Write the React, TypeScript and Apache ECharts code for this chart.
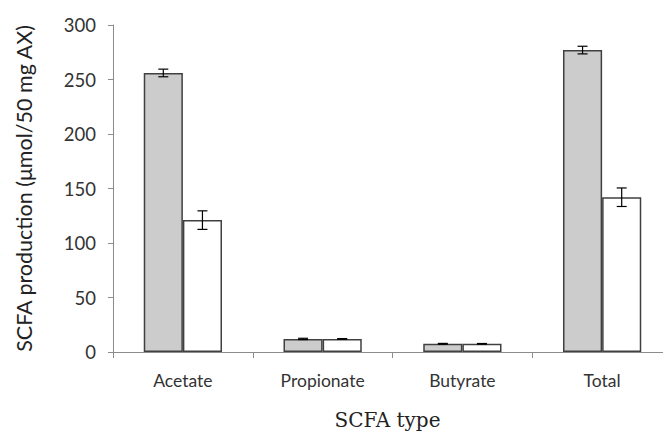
import React, { useEffect, useRef } from "react";
import * as echarts from "echarts";

const categories = ["Acetate", "Propionate", "Butyrate", "Total"];
const grayValues = [256, 12, 7.5, 277];
const grayErrors = [3.5, 0.6, 0.4, 3.5];
const whiteValues = [121, 12, 7.5, 142];
const whiteErrors = [8.5, 0.3, 0.3, 8.5];
const yTicks = { min: 0, max: 300, interval: 50 };

const BAR_CATEGORY_GAP = 0.44;

function errorSeries(values: number[], errors: number[], side: number) {
  const data = values.map((v, i) => [i, v - errors[i], v + errors[i]]);
  return {
    type: "custom",
    z: 10,
    silent: true,
    data,
    encode: { x: 0, y: [1, 2] },
    renderItem: (params: any, api: any) => {
      const idx = api.value(0);
      const lo = api.coord([idx, api.value(1)]);
      const hi = api.coord([idx, api.value(2)]);
      const band = api.size([1, 0])[0];
      const barW = (band * (1 - BAR_CATEGORY_GAP)) / 2;
      const x = lo[0] + side * barW / 2;
      const cap = 5;
      const style = { stroke: "#000", lineWidth: 1.2 };
      return {
        type: "group",
        children: [
          { type: "line", shape: { x1: x, y1: hi[1], x2: x, y2: lo[1] }, style },
          { type: "line", shape: { x1: x - cap, y1: hi[1], x2: x + cap, y2: hi[1] }, style },
          { type: "line", shape: { x1: x - cap, y1: lo[1], x2: x + cap, y2: lo[1] }, style },
        ],
      };
    },
  };
}

export default function App() {
  const ref = useRef<HTMLDivElement>(null);
  useEffect(() => {
    if (!ref.current) return;
    const chart = echarts.init(ref.current, undefined, { renderer: "svg" });
    chart.setOption({
      animation: false,
      backgroundColor: "#fff",
      grid: { left: 113, top: 25, width: 559, height: 327, outerBoundsMode: "none", containLabel: false },
      xAxis: {
        type: "category",
        data: categories,
        axisLine: { lineStyle: { color: "#8c8c8c", width: 1 } },
        axisTick: { show: true, length: 6, lineStyle: { color: "#8c8c8c" } },
        axisLabel: {
          color: "#333",
          fontFamily: "Lato",
          fontSize: 17.5,
          margin: 19,
        },
        name: "SCFA type",
        nameLocation: "middle",
        nameGap: 58,
        nameTextStyle: {
          fontFamily: "DejaVu Serif",
          fontSize: 20,
          color: "#222",
          padding: [0, 10, 0, 0],
        },
      },
      yAxis: {
        type: "value",
        min: yTicks.min,
        max: yTicks.max,
        interval: yTicks.interval,
        splitLine: { show: false },
        axisLine: { show: true, lineStyle: { color: "#8c8c8c", width: 1 } },
        axisTick: { show: true, length: 5, lineStyle: { color: "#8c8c8c" } },
        axisLabel: {
          color: "#333",
          fontFamily: "Lato",
          fontSize: 18.5,
          margin: 17,
        },
        name: "SCFA production (μmol/50 mg AX)",
        nameLocation: "middle",
        nameGap: 78,
        nameTextStyle: {
          fontFamily: "Lato",
          fontSize: 21.5,
          color: "#222",
        },
      },
      series: [
        {
          type: "bar",
          data: grayValues,
          barGap: "0%",
          barCategoryGap: BAR_CATEGORY_GAP * 100 + "%",
          itemStyle: { color: "#cccccc", borderColor: "#404040", borderWidth: 1.5 },
        },
        {
          type: "bar",
          data: whiteValues,
          barGap: "0%",
          barCategoryGap: BAR_CATEGORY_GAP * 100 + "%",
          itemStyle: { color: "#ffffff", borderColor: "#404040", borderWidth: 1.5 },
        },
        errorSeries(grayValues, grayErrors, -1),
        errorSeries(whiteValues, whiteErrors, 1),
      ],
    });
    return () => chart.dispose();
  }, []);
  return (
    <div
      ref={ref}
      style={{ position: "fixed", left: 0, top: 0, width: 663, height: 440, background: "#fff" }}
    />
  );
}
